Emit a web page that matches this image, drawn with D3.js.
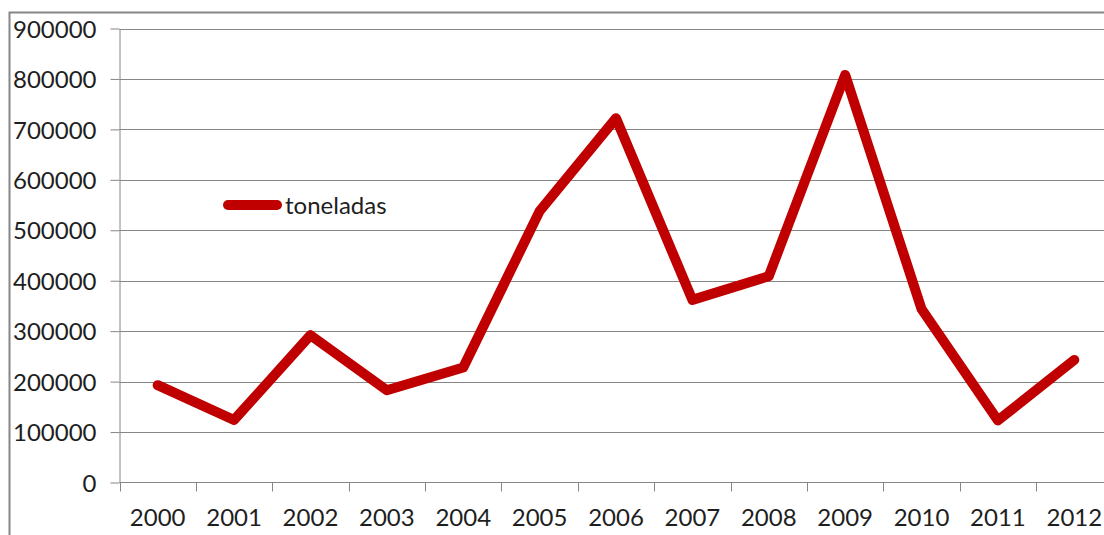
<!DOCTYPE html>
<html>
<head>
<meta charset="utf-8">
<script src="https://cdn.jsdelivr.net/npm/d3@7"></script>
<style>
  body { margin: 0; background: #fff; }
  svg { display: block; }
  text { font-family: Lato, "Open Sans", sans-serif; fill: #1e1e1e; }
</style>
</head>
<body>
<div id="container"></div>
<script>
// data
let years = ["2000","2001","2002","2003","2004","2005","2006","2007","2008","2009","2010","2011","2012"];
let toneladas = [193000, 124000, 292000, 183000, 228000, 538000, 722000, 362000, 409000, 808000, 344000, 123000, 243000];
let yTicks = [0, 100000, 200000, 300000, 400000, 500000, 600000, 700000, 800000, 900000];
let seriesName = "toneladas";

let w = 1104;
let h = 535;
let plotLeft = 119.5, plotRight = 1112.5, plotTop = 28.5, plotBottom = 482.5;
let grey = "#868686";
let red = "#c00000";

let viz = d3.select("#container")
    .append("svg")
    .attr("width", w)
    .attr("height", h);

// outer frame of the chart (runs off the right and bottom edge)
viz.append("rect")
    .attr("x", 9.5).attr("y", 12.5)
    .attr("width", w + 20).attr("height", h + 20)
    .attr("fill", "none")
    .attr("stroke", grey)
    .attr("stroke-width", 2);

let xScale = d3.scaleBand().domain(years).range([plotLeft, plotRight]);
let yScale = d3.scaleLinear().domain([0, 900000]).range([plotBottom, plotTop]);

// gridlines
viz.append("g").selectAll("line")
    .data(yTicks.filter(d => d > 0))
    .join("line")
    .attr("x1", plotLeft).attr("x2", plotRight)
    .attr("y1", d => Math.round(yScale(d)) + 0.5)
    .attr("y2", d => Math.round(yScale(d)) + 0.5)
    .attr("stroke", grey);

// y axis
let yAxis = d3.axisLeft(yScale).tickValues(yTicks).tickFormat(d3.format("d"))
    .tickSize(9).tickSizeOuter(0).tickPadding(14);
let yAxisGroup = viz.append("g").attr("transform", "translate(" + plotLeft + ",0)").call(yAxis);
yAxisGroup.select(".domain").attr("stroke", grey);
yAxisGroup.selectAll("line").attr("stroke", grey);
yAxisGroup.selectAll("text").attr("font-size", 24).attr("dy", "0.36em").style("fill", "#1e1e1e");

// x axis line
viz.append("line")
    .attr("x1", plotLeft).attr("x2", plotRight)
    .attr("y1", plotBottom).attr("y2", plotBottom)
    .attr("stroke", grey);

// x tick marks sit on the band edges
let edges = years.map(d => xScale(d)).concat([plotRight]);
viz.append("g").selectAll("line")
    .data(edges)
    .join("line")
    .attr("x1", d => Math.round(d) + 0.5).attr("x2", d => Math.round(d) + 0.5)
    .attr("y1", plotBottom).attr("y2", plotBottom + 9)
    .attr("stroke", grey);

let xAxis = d3.axisBottom(xScale).tickSize(0).tickPadding(0);
let xAxisGroup = viz.append("g").attr("transform", "translate(0," + plotBottom + ")").call(xAxis);
xAxisGroup.select(".domain").remove();
xAxisGroup.selectAll("text").attr("font-size", 24).attr("dy", 0).attr("y", 43).style("fill", "#1e1e1e");

// the line
let line = d3.line()
    .x((d, i) => xScale(years[i]) + xScale.bandwidth() / 2)
    .y(d => yScale(d));

viz.append("path")
    .datum(toneladas)
    .attr("d", line)
    .attr("fill", "none")
    .attr("stroke", red)
    .attr("stroke-width", 10)
    .attr("stroke-linejoin", "round")
    .attr("stroke-linecap", "round");

// legend
let legend = viz.append("g").attr("transform", "translate(228,205)");
legend.append("line")
    .attr("x1", 0).attr("x2", 49)
    .attr("stroke", red)
    .attr("stroke-width", 10)
    .attr("stroke-linecap", "round");
legend.append("text")
    .attr("x", 57).attr("y", 8.5)
    .attr("font-size", 24)
    .text(seriesName);
</script>
</body>
</html>
